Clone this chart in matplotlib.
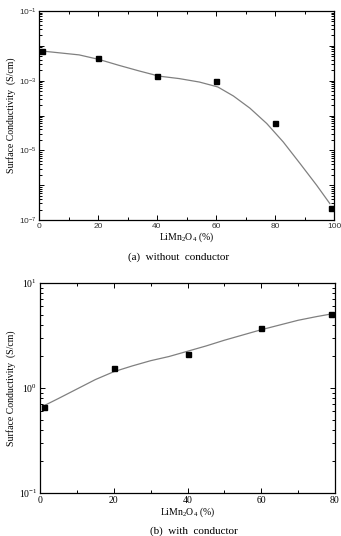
import numpy as np
import matplotlib
matplotlib.use("Agg")
import matplotlib.pyplot as plt
from matplotlib.ticker import LogLocator, FixedLocator, MultipleLocator, FuncFormatter, NullFormatter

plt.rcParams["font.family"] = ["Liberation Serif", "DejaVu Serif"]
plt.rcParams["mathtext.fontset"] = "custom"
plt.rcParams["mathtext.rm"] = "Liberation Serif"
plt.rcParams["mathtext.it"] = "Liberation Serif:italic"
plt.rcParams["mathtext.sf"] = "Liberation Sans"

a_x = [1, 20, 40, 60, 80, 99]
a_y = [7.1e-3, 4.5e-3, 1.35e-3, 9.8e-4, 6.2e-5, 2.2e-7]
a_fit_x = [0, 6.8, 13.6, 20.3, 27.1, 33.9, 40.7, 47.5, 54.4, 60.6, 65.9,
           71.5, 77.2, 82.8, 88.5, 94.1, 98.6]
a_fit_logy = [-2.14, -2.20, -2.26, -2.39, -2.56, -2.72, -2.87, -2.94, -3.04,
              -3.18, -3.44, -3.79, -4.23, -4.76, -5.38, -6.00, -6.53]

# (b) with conductor
b_x = [1, 20, 40, 60, 79]
b_y = [0.66, 1.54, 2.11, 3.75, 5.1]
b_fit_x = [1, 5, 10, 15, 20, 25, 30, 35, 40, 45, 50, 55, 60, 65, 70, 75, 79]
b_fit_logy = [-0.17, -0.10, -0.01, 0.08, 0.155, 0.21, 0.26, 0.30, 0.35, 0.40,
              0.455, 0.505, 0.555, 0.60, 0.645, 0.68, 0.705]

xlabel = "LiMn$_2$O$_4$ (%)"
ylabel = "Surface Conductivity  (S/cm)"

fig = plt.figure(figsize=(3.41, 5.36), dpi=100)

ax1 = fig.add_axes([39 / 341, 1 - 220 / 536, 295 / 341, 209 / 536])
ax2 = fig.add_axes([40 / 341, 1 - 493 / 536, 295 / 341, 210 / 536])

line_kw = dict(color="#808080", lw=0.9, zorder=2)
mark_kw = dict(ls="none", marker="s", ms=3.6, color="black", zorder=3)

ax1.plot(a_fit_x, 10 ** np.array(a_fit_logy), **line_kw)
ax1.plot(a_x, a_y, **mark_kw)
ax1.set_yscale("log")
ax1.set_xlim(0, 100)
ax1.set_ylim(1e-7, 1e-1)
ax1.xaxis.set_major_locator(MultipleLocator(20))
ax1.xaxis.set_minor_locator(MultipleLocator(10))
ax1.yaxis.set_major_locator(FixedLocator([10.0 ** e for e in range(-7, 0)]))
ax1.yaxis.set_minor_locator(LogLocator(base=10, subs=np.arange(2, 10), numticks=20))
ax1.yaxis.set_minor_formatter(NullFormatter())


def sans_pow(v, pos):
    e = int(round(np.log10(v)))
    if e % 2 == 0:
        return ""
    return r"$\mathsf{10^{%d}}$" % e


ax1.yaxis.set_major_formatter(FuncFormatter(sans_pow))
for lab in ax1.get_xticklabels():
    lab.set_family(["Liberation Sans", "DejaVu Sans"])
ax1.tick_params(axis="x", labelsize=6, pad=2, labelcolor="#333333")
ax1.tick_params(axis="y", labelsize=6, pad=1.5, labelcolor="#333333")
ax1.set_xlabel(xlabel, fontsize=7, labelpad=0.5)
ax1.set_ylabel(ylabel, fontsize=7, labelpad=2)

ax2.plot(b_fit_x, 10 ** np.array(b_fit_logy), **line_kw)
ax2.plot(b_x, b_y, **mark_kw)
ax2.set_yscale("log")
ax2.set_xlim(0, 80)
ax2.set_ylim(0.1, 10)
ax2.xaxis.set_major_locator(MultipleLocator(20))
ax2.xaxis.set_minor_locator(MultipleLocator(10))
ax2.yaxis.set_major_locator(FixedLocator([0.1, 1, 10]))
ax2.yaxis.set_minor_locator(LogLocator(base=10, subs=np.arange(2, 10), numticks=20))
ax2.yaxis.set_minor_formatter(NullFormatter())
ax2.yaxis.set_major_formatter(FuncFormatter(lambda v, p: r"$10^{%d}$" % int(round(np.log10(v)))))
ax2.tick_params(axis="both", labelsize=7, pad=2)
ax2.set_xlabel(xlabel, fontsize=7, labelpad=0.5)
ax2.set_ylabel(ylabel, fontsize=7, labelpad=2)

for ax in (ax1, ax2):
    ax.tick_params(which="both", direction="in", top=True, right=True, width=0.7)
    ax.tick_params(which="major", length=3.5)
    ax.tick_params(which="minor", length=2)
    for s in ax.spines.values():
        s.set_linewidth(0.9)

fig.text(179 / 341, 1 - 257 / 536, "(a)  without  conductor", ha="center", va="center", fontsize=8)
fig.text(194 / 341, 1 - 531 / 536, "(b)  with  conductor", ha="center", va="center", fontsize=8)

fig.savefig("out.png", dpi=100)
